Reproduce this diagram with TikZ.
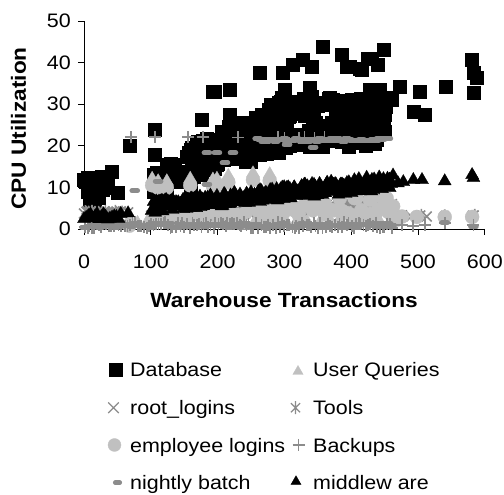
\documentclass[tikz,border=0pt]{standalone}
\usepackage{fontspec}
\setmainfont[FakeStretch=1.1]{Liberation Sans}
\usetikzlibrary{plotmarks}
\definecolor{dgray}{RGB}{140,140,140}
\definecolor{lgray}{RGB}{192,192,192}
\pgfdeclareplotmark{xstar}{%
  \pgfpathmoveto{\pgfqpoint{-.7\pgfplotmarksize}{-.7\pgfplotmarksize}}%
  \pgfpathlineto{\pgfqpoint{.7\pgfplotmarksize}{.7\pgfplotmarksize}}%
  \pgfpathmoveto{\pgfqpoint{-.7\pgfplotmarksize}{.7\pgfplotmarksize}}%
  \pgfpathlineto{\pgfqpoint{.7\pgfplotmarksize}{-.7\pgfplotmarksize}}%
  \pgfpathmoveto{\pgfqpoint{0pt}{-\pgfplotmarksize}}%
  \pgfpathlineto{\pgfqpoint{0pt}{\pgfplotmarksize}}%
  \pgfusepathqstroke}
\pgfdeclareplotmark{pill}{%
  \pgfpathmoveto{\pgfqpoint{-\pgfplotmarksize}{0pt}}%
  \pgfpathlineto{\pgfqpoint{\pgfplotmarksize}{0pt}}%
  \pgfsetroundcap\pgfusepathqstroke}
\tikzset{
  dbs/.style={black, mark=square*, mark size=6.5pt, mark options={draw=black, fill=black, line width=0.3pt}},
  uqs/.style={lgray, mark=triangle*, mark size=7.5pt, mark options={draw=lgray, fill=lgray, line width=0.3pt}},
  rls/.style={dgray, mark=x, mark size=7pt, mark options={line width=1.6pt}},
  tls/.style={dgray, mark=xstar, mark size=5.5pt, mark options={line width=1.6pt}},
  els/.style={lgray, mark=*, mark size=7pt, mark options={draw=lgray, fill=lgray, line width=0.3pt}},
  bks/.style={dgray, mark=+, mark size=6pt, mark options={line width=1.8pt}},
  nbs/.style={dgray, mark=pill, mark size=2.8pt, mark options={line width=5pt}},
  mws/.style={black, mark=triangle*, mark size=7.5pt, mark options={draw=black, fill=black, line width=0.3pt}},
  tick/.style={font=\fontsize{19.5}{23}\selectfont, inner sep=0pt},
  ttl/.style={font=\fontsize{20.6}{24}\selectfont\bfseries, inner sep=0pt},
  leg/.style={font=\fontsize{19.5}{23}\selectfont, inner sep=0pt, anchor=base west},
  axl/.style={draw=black, line width=0.9pt}
}
\begin{document}
\begin{tikzpicture}[x=1pt,y=1pt]
\useasboundingbox (0,0) rectangle (504,495);
\fill[white] (0,0) rectangle (504,495);
\pgfmathsetseed{2024}
\begin{scope}[shift={(84pt,266pt)}, x=0.668pt, y=4.16pt]
  % axes
  \draw[axl] (0,0) -- (600,0);
  \draw[axl] (0,0) -- (0,50);
  \foreach \k in {0,...,5} \draw[axl] (0,10*\k) -- ++(-6pt,0);
  \foreach \k in {0,...,6} \draw[axl] (100*\k,0) -- ++(0,-6pt);
  % Database
  \draw[dbs] plot[only marks] coordinates {
    (0,11.8) (2,11.3) (6,9) (9,7) (10,10.5) (13,9.4) (14,10) (16,6.5) (18,8) (20,11.8)
    (22,7.5) (24,10.5) (26,12.5) (28,9.5) (32,10) (36,11) (42,13.7) (51,8.7) (5,12.3) (12,8.3)
    (69,20) (106,23.8) (106,17.8) (104,13) (109,13.5) (110,12) (118,11.3) (124,8.7) (104,9)
    (112,8.5) (129,15.8) (124,15.4) (136,15.4) (146,13.7) (130,12) (140,11.5) (150,13)
    (159,19) (161,12.5) (159,9.8) (161,19.5) (176,26.2) (174,19.7) (184,16) (193,33) (218,33.4)
    (218,27.6) (206,23.3) (236,22) (263,37.5) (196,33)
    (298,37.7) (313,39.4) (328,40.6) (341,39) (358,43.8) (386,41.8) (393,39) (398,39) (413,38.6)
    (416,38.2) (425,41) (431,41) (448,43) (440,39.4) (301,33.4) (338,33.9) (296,31.5) (311,30.5)
    (341,31.7) (368,31.5) (428,33.4) (443,33.4) (458,31.5) (473,34.1) (503,32.9) (542,34.1)
    (581,40.6) (583,37.7) (588,36.5) (583,32.7) (461,31) (418,30.3) (443,28.1) (493,28.1)
    (510,27.6) (388,29) (403,27.9) (388,26.2) (280,30) (270,27) (290,28)};
  \draw[dbs] plot[only marks, domain=150:290, samples=100] ({\x+4*rnd},{5+0.045*\x+rnd*(8+0.03*(\x-150))});
  \draw[dbs] plot[only marks, domain=290:450, samples=120] ({\x+4*rnd},{19.5+rnd*12});
  % User Queries
  \draw[uqs] plot[only marks] coordinates {
    (102,12.1) (111,11.5) (124,11.5) (159,12.1) (193,11.9) (199,12.1) (216,12.8) (253,13.4)
    (278,13.2) (68,2.4)};
  \draw[uqs] plot[only marks, domain=0:460, samples=30] ({\x+3*rnd},{0.6+rnd*2.2});
  % root_logins
  \draw[rls] plot[only marks, domain=0:55, samples=12] ({\x},{3.5+rnd*0.8});
  \draw[rls] plot[only marks, domain=100:460, samples=70] ({\x+3*rnd},{1.8+0.006*\x+rnd*2});
  \draw[rls] plot[only marks] coordinates {(66,4) (476,3.3) (490,3) (513,3) (540,2.8) (582,3.2)};
  % Tools
  \draw[tls] plot[only marks, domain=2:57, samples=12] ({\x},{3.9+rnd*0.6});
  \draw[tls] plot[only marks, domain=100:460, samples=70] ({\x+3*rnd},{2.2+0.007*\x+rnd*2});
  \draw[tls] plot[only marks] coordinates {(540,3.4) (585,3.5) (505,3.5)};
  % employee logins
  \draw[els] plot[only marks] coordinates {
    (102,10.5) (111,9.9) (124,9.9) (159,10.5) (193,10.3) (199,10.5) (216,11.2) (253,11.8)
    (278,11.6) (68,0.8)
    (468,2.2) (476,3) (498,2.9) (540,2.9) (581,2.9) (405,7.4) (431,7.4) (453,7.4) (383,7.4)
    (428,7) (360,6.2)};
  \draw[els] plot[only marks, domain=100:460, samples=55] ({\x+3*rnd},{1.5+0.004*\x+rnd*(1.5+0.007*\x)});
  % Backups
  \draw[bks] plot[only marks] coordinates {
    (70,22.1) (106,22.1) (156,22.1) (178,22.1) (231,22) (290,22) (300,21.8) (322,21.8)
    (330,22) (345,21.8) (360,22) (540,1.5) (583,1) (476,1) (493,0.8) (510,1)};
  \draw[bks] plot[only marks, domain=0:460, samples=130] ({\x+2*rnd},{0.2+rnd*1.4});
  % nightly batch
  \draw[nbs] plot[only marks] coordinates {
    (76,9.2) (111,11.5) (184,10.8) (184,18.3) (199,18.3) (211,15.9) (223,18.3) (268,21.4)
    (304,20.2) (343,19.7) (540,1.5) (583,0.5)};
  \draw[nbs] plot[only marks, domain=260:455, samples=45] ({\x},{21+rnd*0.8});
  \draw[nbs] plot[only marks, domain=0:460, samples=80] ({\x+2*rnd},{0.3+rnd*1});
  % middleware
  \draw[mws] plot[only marks, domain=0:55, samples=18] ({\x},{2.3+1.5*rnd});
  \draw[mws] plot[only marks, domain=100:460, samples=260] ({\x+3*rnd},{2.2+0.016*\x+rnd*(2.6+0.002*\x)});
  \draw[mws] plot[only marks] coordinates {
    (66,3.8) (478,11.3) (493,11.8) (506,11.8) (540,11.5) (581,13) (583,12.3) (470,11) (455,10.5)};
\end{scope}
% tick labels
\foreach \k in {0,...,5} {
  \pgfmathtruncatemacro\lab{10*\k}
  \node[tick, anchor=east] (yl\k) at (71,{266+41.6*\k}) {\lab};
}
\foreach \k in {0,...,6} {
  \pgfmathtruncatemacro\lab{100*\k}
  \node[tick] (xl\k) at ({84+66.8*\k},233) {\lab};
}
\node[ttl] (xtitle) at (284,194.5) {Warehouse Transactions};
\node[ttl, rotate=90] (ytitle) at (18.5,366.5) {CPU Utilization};
% legend
\draw[dbs] plot[only marks] coordinates {(116,125)};
\node[leg] (l1) at (130,118.3) {Database};
\draw[uqs, mark size=6pt] plot[only marks] coordinates {(298,123.5)};
\node[leg] (l2) at (313,118.3) {User Queries};
\draw[rls, mark size=7.5pt, mark options={line width=1.2pt}] plot[only marks] coordinates {(113.5,87.3)};
\node[leg] (l3) at (130,80) {root\_logins};
\draw[tls, mark size=6.5pt, mark options={line width=1.3pt}] plot[only marks] coordinates {(295.5,87.3)};
\node[leg] (l4) at (313,80) {Tools};
\draw[els, mark size=6.5pt] plot[only marks] coordinates {(114.5,50)};
\node[leg] (l5) at (130,42.5) {employee logins};
\draw[bks, mark size=6pt, mark options={line width=1.2pt}] plot[only marks] coordinates {(298.5,50)};
\node[leg] (l6) at (313,42.5) {Backups};
\draw[nbs, mark size=2.3pt, mark options={line width=4.5pt}] plot[only marks] coordinates {(117.5,12.3)};
\node[leg] (l7) at (130,5) {nightly batch};
\draw[mws, mark size=5.8pt] plot[only marks] coordinates {(296,13.5)};
\node[leg] (l8) at (313,5) {middlew are};
\end{tikzpicture}
\end{document}
